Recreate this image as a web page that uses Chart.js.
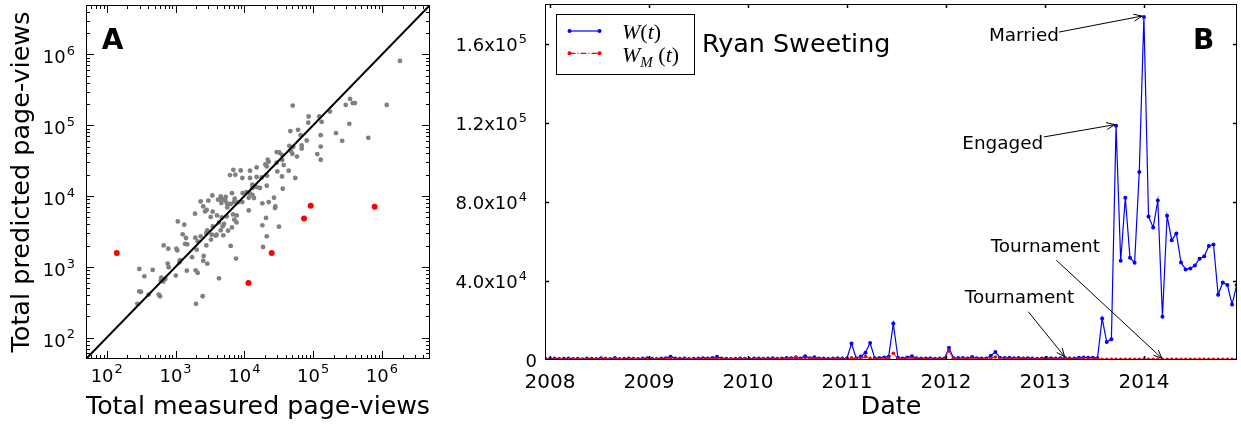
<!DOCTYPE html>
<html>
<head>
<meta charset="utf-8">
<script src="https://cdn.jsdelivr.net/npm/chart.js@4.4.1/dist/chart.umd.min.js"></script>
<style>
  html, body { margin: 0; padding: 0; background: #fff; }
  #wrap { position: relative; width: 1241px; height: 427px; }
  #panelA { position: absolute; left: 0; top: 0; }
  #panelB { position: absolute; left: 440px; top: 0; }
</style>
</head>
<body>
<div id="wrap">
  <canvas id="panelA" width="440" height="427"></canvas>
  <canvas id="panelB" width="801" height="427"></canvas>
</div>
<script>
// ---- Panel A: measured vs predicted totals (log-log) ----
const measuredViews = [
  50500, 86000, 123000, 85000, 133000, 176000, 298000, 344000, 376000, 406000,
  1175000, 336000, 215000, 265000, 634000, 129000, 129000, 115000, 129000, 46700,
  60300, 66000, 80700, 68200, 68200, 51500, 45100, 47200, 49900, 58300,
  29600, 32300, 35000, 35700, 29600, 37400, 21900, 22600, 20200, 21200,
  15100, 12100, 8870, 6920, 6190, 7400, 9360, 12100, 15100, 17900,
  21400, 30200, 35300, 44200, 55100, 13100, 14000, 13100, 15100, 16900,
  12000, 9480, 10800, 6620, 5370, 7240, 7080, 8180, 9360, 11600,
  13800, 21200, 36200, 22600, 27000, 11600, 13100, 4540, 4690, 5290,
  5600, 6000, 5640, 6340, 4630, 4150, 3430, 3000, 2320, 2530,
  2690, 3470, 1920, 2840, 3250, 4010, 3470, 4290, 4690, 5550,
  6850, 7750, 7160, 7700, 5070, 4850, 4540, 3970, 3840, 3360,
  2900, 2800, 2320, 1940, 2100, 3280, 4950, 5800, 6620, 6340,
  7570, 1340, 1080, 1270, 1420, 1380, 1480, 1030, 1060, 673,
  785, 1140, 771, 796, 1010, 1460, 2030, 2570, 2800, 2530,
  2900, 1960, 2100, 1740, 1160, 621, 665, 711, 610, 466,
  352, 298, 298, 315, 407, 570, 596, 279, 1990, 2480,
  4290, 18300, 21200, 18700, 31900, 27900, 28300, 20700, 18300, 1830000
];
const predictedViews = [
  190000, 133000, 133000, 109000, 112000, 156000, 194000, 236000, 206000, 206000,
  194000, 105000, 77500, 60400, 66500, 72600, 50100, 39200, 32600, 82800,
  86300, 72600, 61000, 51800, 47000, 49700, 51300, 43600, 39600, 36200,
  41800, 41300, 38300, 32300, 29600, 27400, 32600, 30500, 28000, 26200,
  25400, 22800, 23000, 23500, 19800, 20000, 18000, 18000, 18600, 18300,
  19400, 22300, 18900, 22800, 18000, 14500, 13700, 13000, 13400, 13000,
  11000, 11000, 11400, 11000, 9700, 9180, 8240, 8240, 8240, 9480,
  9400, 14000, 12700, 8240, 9480, 6280, 10400, 9890, 9100, 8610,
  7800, 7750, 6920, 7700, 7980, 8890, 10200, 8610, 8410, 7140,
  6080, 6020, 5640, 6360, 5070, 5340, 3730, 4250, 5000, 5160,
  5510, 5340, 4650, 4250, 4040, 3730, 3280, 2850, 2760, 2850,
  3280, 3010, 2700, 2590, 2300, 2430, 2790, 3250, 3610, 1980,
  1310, 3950, 4390, 2880, 2560, 2110, 2080, 1810, 1710, 2010,
  1810, 1160, 1110, 986, 753, 885, 1750, 1430, 2010, 1220,
  1110, 894, 822, 1370, 1240, 706, 620, 676, 640, 906,
  736, 935, 452, 443, 406, 406, 385, 301, 301, 385,
  690, 3860, 2700, 1910, 3700, 6790, 7150, 4910, 7890, 811000
];
const outlierMeasured = [140, 11500, 25000, 73800, 92300, 785000];
const outlierPredicted = [1570, 590, 1570, 4840, 7310, 7080];
const logAxisLimits = [50, 5e6];
const logTickValues = [1e2, 1e3, 1e4, 1e5, 1e6];
const logTickLabels = ['10^2', '10^3', '10^4', '10^5', '10^6'];

// ---- Panel B: Ryan Sweeting page-views over time ----
const sampleStart = 2007.9526;   // first sample, decimal year
const sampleStep = 0.046875;     // about 17 days between samples
const pageViews = [
  600, 500, 700, 500, 600, 800, 500, 600, 400, 700,
  600, 500, 900, 600, 500, 1000, 500, 600, 800, 600,
  500, 700, 900, 600, 500, 800, 900, 1700, 800, 600,
  700, 500, 600, 700, 900, 800, 1000, 1600, 700, 600,
  500, 600, 700, 600, 500, 700, 800, 600, 700, 900,
  600, 700, 1000, 900, 1300, 800, 1900, 900, 1400, 700,
  800, 600, 700, 900, 700, 800, 8300, 900, 1800, 3700,
  8600, 900, 1000, 1300, 1700, 18400, 1100, 800, 1300, 1900,
  900, 700, 800, 900, 600, 800, 700, 6200, 900, 1000,
  1000, 800, 1500, 900, 800, 700, 2200, 4000, 1200, 1000,
  1100, 900, 1000, 800, 900, 700, 600, 800, 1000, 900,
  700, 900, 1000, 700, 800, 1100, 1300, 1200, 1200, 900,
  21000, 9100, 10500, 118500, 50200, 82000, 51700, 49200, 95000, 173400,
  72600, 67000, 80600, 21900, 72900, 60600, 64000, 49300, 45800, 46300,
  47800, 51200, 52400, 57700, 58400, 33000, 39200, 37900, 28100, 37900
];
const modelViews = [
  300, 250, 350, 300, 250, 400, 300, 350, 250, 300,
  350, 300, 400, 300, 250, 450, 300, 350, 400, 300,
  250, 350, 400, 300, 250, 350, 450, 700, 400, 300,
  350, 300, 250, 350, 400, 350, 450, 600, 350, 300,
  300, 350, 400, 300, 250, 350, 400, 300, 350, 450,
  300, 350, 500, 450, 1500, 400, 700, 450, 600, 350,
  400, 300, 350, 450, 350, 400, 1100, 450, 900, 1700,
  900, 450, 500, 600, 800, 3400, 500, 400, 600, 800,
  450, 350, 400, 450, 300, 400, 350, 4500, 450, 500,
  500, 400, 700, 450, 400, 350, 900, 1500, 550, 500,
  500, 450, 500, 400, 450, 350, 300, 400, 500, 450,
  350, 450, 500, 350, 400, 450, 500, 450, 450, 400,
  350, 300, 350, 400, 350, 300, 350, 300, 350, 400,
  350, 300, 350, 300, 350, 300, 350, 300, 350, 300,
  350, 300, 350, 300, 350, 300, 350, 300, 350, 300
];
const yearTicks = [2008, 2009, 2010, 2011, 2012, 2013, 2014];
const yearTickLabels = ['2008', '2009', '2010', '2011', '2012', '2013', '2014'];
const timeAxisLimits = [2007.95, 2014.94];
const viewTickValues = [0, 40000, 80000, 120000, 160000];
const viewTickLabels = ['0', '4.0x10^4', '8.0x10^4', '1.2x10^5', '1.6x10^5'];
const viewAxisMax = 180000;

// annotations: text centre, arrow tail, arrow head (data coordinates)
const notes = [
  { text: 'Married', at: [2012.788, 163600], from: [2013.141, 165800], to: [2013.981, 173900] },
  { text: 'Engaged', at: [2012.574, 109100], from: [2012.990, 112800], to: [2013.706, 119000] },
  { text: 'Tournament', at: [2013.004, 57200], from: [2013.114, 50500], to: [2014.182, 860] },
  { text: 'Tournament', at: [2012.743, 31400], from: [2012.832, 24400], to: [2013.199, 1670] }
];

const FONT = '"DejaVu Sans", sans-serif';

// minor ticks of a log axis: 2..9 x 10^k inside the limits
function logMinor(lo, hi) {
  const out = [];
  for (let e = Math.floor(Math.log10(lo)); e <= Math.ceil(Math.log10(hi)); e++) {
    for (let k = 2; k <= 9; k++) {
      const v = k * Math.pow(10, e);
      if (v > lo && v < hi) out.push(v);
    }
  }
  return out;
}

// "base^exp" label with a raised exponent, like matplotlib mathtext
function supLabel(ctx, label, x, y, align, size) {
  const [base, sup] = label.split('^');
  const supSize = size * 0.72;
  ctx.font = size + 'px ' + FONT;
  const wb = ctx.measureText(base).width;
  ctx.font = supSize + 'px ' + FONT;
  const ws = sup ? ctx.measureText(sup).width + 1 : 0;
  const w = wb + ws;
  const x0 = align === 'center' ? x - w / 2 : align === 'right' ? x - w : x;
  ctx.font = size + 'px ' + FONT;
  ctx.fillText(base, x0, y);
  if (sup) {
    ctx.font = supSize + 'px ' + FONT;
    ctx.fillText(sup, x0 + wb + 1, y - size * 0.46);
  }
}

// frame, inward ticks on all four sides, tick labels, panel letter
const frameTicks = {
  id: 'frameTicks',
  afterDatasetsDraw(chart, args, o) {
    const { ctx, chartArea: a, scales } = chart;
    ctx.save();
    ctx.strokeStyle = '#000';
    ctx.lineWidth = o.width;
    const draw = (vals, len, horiz) => {
      vals.forEach(v => {
        ctx.beginPath();
        if (horiz) {
          const p = Math.round(scales.x.getPixelForValue(v)) + 0.5;
          if (p <= a.left + 1 || p >= a.right - 1) return;
          ctx.moveTo(p, a.bottom); ctx.lineTo(p, a.bottom - len);
          ctx.moveTo(p, a.top); ctx.lineTo(p, a.top + len);
        } else {
          const p = Math.round(scales.y.getPixelForValue(v)) + 0.5;
          if (p <= a.top + 1 || p >= a.bottom - 1) return;
          ctx.moveTo(a.left, p); ctx.lineTo(a.left + len, p);
          ctx.moveTo(a.right, p); ctx.lineTo(a.right - len, p);
        }
        ctx.stroke();
      });
    };
    draw(o.xMajor, o.major, true);
    draw(o.xMinor, o.minor, true);
    draw(o.yMajor, o.major, false);
    draw(o.yMinor, o.minor, false);
    ctx.lineWidth = 1;
    ctx.strokeRect(Math.round(a.left) + 0.5, Math.round(a.top) + 0.5,
      Math.round(a.right - a.left) - 1, Math.round(a.bottom - a.top) - 1);

    // tick labels
    ctx.fillStyle = '#000';
    ctx.textAlign = 'left';
    ctx.textBaseline = 'alphabetic';
    o.xMajor.forEach((v, i) => {
      supLabel(ctx, o.xLabels[i], scales.x.getPixelForValue(v), a.bottom + o.xLabelDy, 'center', o.xSize);
    });
    o.yMajor.forEach((v, i) => {
      const lab = o.yLabels[i];
      const hasSup = lab.indexOf('^') >= 0;
      const py = scales.y.getPixelForValue(v);
      supLabel(ctx, lab, a.left - (hasSup ? o.yGapSup : o.yGap), py + (hasSup ? o.yDySup : o.yDy), 'right', o.ySize);
    });

    // panel letter
    ctx.font = 'bold 28px ' + FONT;
    const lx = o.letterDx >= 0 ? a.left + o.letterDx : a.right + o.letterDx;
    ctx.fillText(o.letter, lx, a.top + o.letterDy);
    ctx.restore();
  }
};

function mathText(ctx, parts, x, y) {
  parts.forEach(p => {
    const size = p.sub ? 15 : 22;
    ctx.font = (p.it ? 'italic ' : '') + size + 'px "Liberation Serif", serif';
    ctx.fillText(p.t, x, y + (p.sub ? 5 : 0));
    x += ctx.measureText(p.t).width;
  });
}

// legend, title and arrows of panel B
const notesPlugin = {
  id: 'notesPlugin',
  afterDraw(chart) {
    const { ctx, chartArea: a, scales: { x, y } } = chart;
    ctx.save();
    ctx.strokeStyle = '#000';
    ctx.fillStyle = '#000';
    ctx.lineWidth = 1;
    ctx.font = '18.4px ' + FONT;
    ctx.textAlign = 'center';
    ctx.textBaseline = 'middle';
    notes.forEach(n => {
      const x0 = x.getPixelForValue(n.from[0]), y0 = y.getPixelForValue(n.from[1]);
      const x1 = x.getPixelForValue(n.to[0]), y1 = y.getPixelForValue(n.to[1]);
      ctx.beginPath();
      ctx.moveTo(x0, y0); ctx.lineTo(x1, y1);
      const ang = Math.atan2(y1 - y0, x1 - x0);
      [0.4, -0.4].forEach(d => {
        ctx.moveTo(x1, y1);
        ctx.lineTo(x1 - 9 * Math.cos(ang + d), y1 - 9 * Math.sin(ang + d));
      });
      ctx.stroke();
      ctx.fillText(n.text, x.getPixelForValue(n.at[0]), y.getPixelForValue(n.at[1]));
    });
    // title
    ctx.textAlign = 'left';
    ctx.textBaseline = 'alphabetic';
    ctx.font = '25.4px ' + FONT;
    ctx.fillText('Ryan Sweeting', a.left + 157, a.top + 47.7);
    // legend box
    const bx = a.left + 11, by = a.top + 10;
    ctx.fillStyle = '#fff';
    ctx.fillRect(bx, by, 139, 61);
    ctx.strokeStyle = '#000';
    ctx.strokeRect(bx + 0.5, by + 0.5, 138, 60);
    const rows = [
      { color: '#0000ff', dash: [], dy: 17, label: [{ t: 'W', it: true }, { t: '(' }, { t: 't', it: true }, { t: ')' }] },
      { color: '#ff0000', dash: [6, 2, 1, 2], dy: 39.3, label: [{ t: 'W', it: true }, { t: 'M', it: true, sub: true }, { t: ' (' }, { t: 't', it: true }, { t: ')' }] }
    ];
    rows.forEach(r => {
      const ly = by + r.dy;
      ctx.strokeStyle = r.color;
      ctx.fillStyle = r.color;
      ctx.lineWidth = 1.2;
      ctx.setLineDash(r.dash);
      ctx.beginPath();
      ctx.moveTo(bx + 13.5, ly); ctx.lineTo(bx + 43.5, ly);
      ctx.stroke();
      ctx.setLineDash([]);
      [bx + 13.5, bx + 43.5].forEach(px => {
        ctx.beginPath(); ctx.arc(px, ly, 2, 0, Math.PI * 2); ctx.fill();
      });
      ctx.fillStyle = '#000';
      mathText(ctx, r.label, bx + 66, ly + 8.3);
    });
    ctx.restore();
  }
};

const titleFont = { family: FONT, size: 25.5 };
// fixed axis boxes; drop the label overhang padding Chart.js adds
const fixBox = (w, h) => s => {
  if (w) s.width = w;
  if (h) s.height = h;
  s.paddingTop = s.paddingBottom = s.paddingLeft = s.paddingRight = 0;
};
const hiddenTicks = { display: false };
const noGrid = { display: false, drawTicks: false };

// ---- chart A ----
new Chart(document.getElementById('panelA'), {
  type: 'scatter',
  data: {
    datasets: [
      {
        data: outlierMeasured.map((m, i) => ({ x: m, y: outlierPredicted[i] })),
        backgroundColor: '#ff0000', borderWidth: 0, pointRadius: 3, order: 0
      },
      {
        type: 'line',
        data: logAxisLimits.map(v => ({ x: v, y: v })),
        borderColor: '#000', borderWidth: 2, pointRadius: 0, order: 1
      },
      {
        data: measuredViews.map((m, i) => ({ x: m, y: predictedViews[i] })),
        backgroundColor: '#808080', borderWidth: 0, pointRadius: 2.4, order: 2
      }
    ]
  },
  options: {
    responsive: false,
    animation: false,
    events: [],
    layout: { padding: { top: 5, right: 10, left: 0, bottom: 0 } },
    scales: {
      x: {
        type: 'logarithmic', min: logAxisLimits[0], max: logAxisLimits[1],
        grid: noGrid, border: { display: false }, ticks: hiddenTicks,
        afterFit: fixBox(0, 68),
        title: { display: true, text: 'Total measured page-views', color: '#000', font: titleFont, padding: { top: 0, bottom: 4.7 } }
      },
      y: {
        type: 'logarithmic', min: logAxisLimits[0], max: logAxisLimits[1],
        grid: noGrid, border: { display: false }, ticks: hiddenTicks,
        afterFit: fixBox(86, 0),
        title: { display: true, text: 'Total predicted page-views', color: '#000', font: titleFont, padding: { top: 7.2, bottom: 0 } }
      }
    },
    plugins: {
      legend: { display: false },
      tooltip: { enabled: false },
      frameTicks: {
        width: 1, major: 8, minor: 4,
        xMajor: logTickValues, xMinor: logMinor(logAxisLimits[0], logAxisLimits[1]),
        yMajor: logTickValues, yMinor: logMinor(logAxisLimits[0], logAxisLimits[1]),
        xLabels: logTickLabels, yLabels: logTickLabels,
        xSize: 18, ySize: 18, xLabelDy: 22.7,
        yGap: 11, yGapSup: 11, yDy: 6.5, yDySup: 9,
        letter: 'A', letterDx: 15.7, letterDy: 44.3
      }
    }
  },
  plugins: [frameTicks]
});

// ---- chart B ----
const sampleYears = pageViews.map((_, i) => sampleStart + i * sampleStep);

new Chart(document.getElementById('panelB'), {
  type: 'line',
  data: {
    datasets: [
      {
        label: 'W_M(t)',
        data: modelViews.map((v, i) => ({ x: sampleYears[i], y: v })),
        borderColor: '#ff0000', backgroundColor: '#ff0000', borderWidth: 1,
        borderDash: [6, 2, 1, 2], pointRadius: 1.8, pointBorderWidth: 0, order: 0
      },
      {
        label: 'W(t)',
        data: pageViews.map((v, i) => ({ x: sampleYears[i], y: v })),
        borderColor: '#0000ff', backgroundColor: '#0000ff', borderWidth: 1.2,
        pointRadius: 2, pointBorderWidth: 0, order: 1
      }
    ]
  },
  options: {
    responsive: false,
    animation: false,
    events: [],
    layout: { padding: { top: 4, right: 3, left: 0, bottom: 0 } },
    scales: {
      x: {
        type: 'linear', min: timeAxisLimits[0], max: timeAxisLimits[1],
        grid: noGrid, border: { display: false }, ticks: hiddenTicks,
        afterFit: fixBox(0, 67),
        title: { display: true, text: 'Date', color: '#000', font: titleFont, padding: { top: 0, bottom: 4.7 } }
      },
      y: {
        min: 0, max: viewAxisMax,
        grid: noGrid, border: { display: false }, ticks: hiddenTicks,
        afterFit: fixBox(105, 0)
      }
    },
    plugins: {
      legend: { display: false },
      tooltip: { enabled: false },
      frameTicks: {
        width: 1.5, major: 4, minor: 0,
        xMajor: yearTicks, xMinor: [], yMajor: viewTickValues, yMinor: [],
        xLabels: yearTickLabels, yLabels: viewTickLabels,
        xSize: 20, ySize: 18, xLabelDy: 27.7,
        yGap: 8, yGapSup: 18, yDy: 6.5, yDySup: 7.5,
        letter: 'B', letterDx: -44, letterDy: 45.3
      }
    }
  },
  plugins: [frameTicks, notesPlugin]
});
</script>
</body>
</html>
